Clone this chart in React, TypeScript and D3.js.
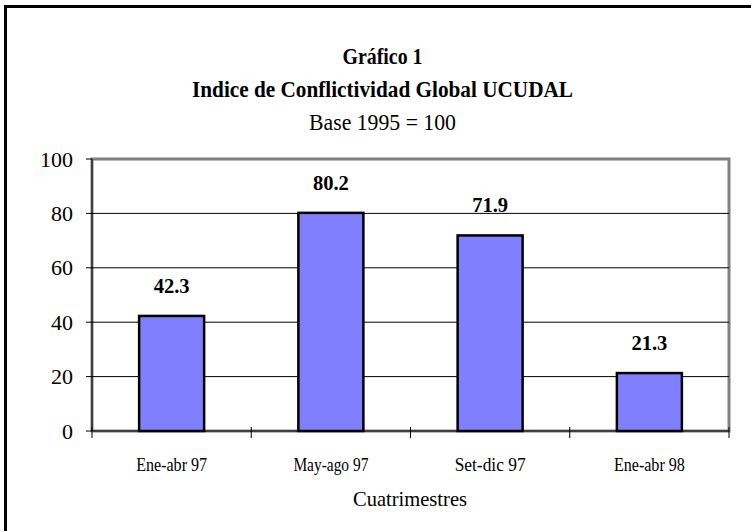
import React from "react";
import * as d3 from "d3";

const categories = ["Ene-abr 97", "May-ago 97", "Set-dic 97", "Ene-abr 98"];
const values = [42.3, 80.2, 71.9, 21.3];
const yTicks = [0, 20, 40, 60, 80, 100];
const titleLines = ["Gráfico 1", "Indice de Conflictividad Global UCUDAL", "Base 1995 = 100"];
const xAxisTitle = "Cuatrimestres";

const W = 751;
const H = 531;
const plot = { left: 92, right: 729, top: 159, bottom: 431 };
const FONT = "Liberation Serif, Times New Roman, serif";
const ts = { fontFamily: FONT };

export default function App() {
  const x = d3
    .scaleBand<string>()
    .domain(categories)
    .range([plot.left, plot.right])
    .paddingInner(0)
    .paddingOuter(0);
  const y = d3.scaleLinear().domain([0, 100]).range([plot.bottom, plot.top]);
  const barW = 65;
  const bounds = [...categories.map((c) => x(c)!), plot.right];
  const xLabelWidths = [71, 75, 71, 71];

  return (
    <svg
      width={W}
      height={H}
      style={{ position: "absolute", left: 0, top: 0, display: "block", background: "#fff", fontFamily: FONT }}
    >
      <rect x={0} y={0} width={W} height={H} fill="#fff" />
      {/* outer frame (top & left visible) */}
      <rect x={5.5} y={6.5} width={900} height={700} fill="none" stroke="#000" strokeWidth={3} />

      {/* titles */}
      <text style={ts} x={382.5} y={64} textAnchor="middle" fontWeight="bold" fontSize={23} textLength={80} lengthAdjust="spacingAndGlyphs">
        {titleLines[0]}
      </text>
      <text style={ts} x={382.5} y={97} textAnchor="middle" fontWeight="bold" fontSize={23} textLength={381} lengthAdjust="spacingAndGlyphs">
        {titleLines[1]}
      </text>
      <text style={ts} x={382.5} y={130} textAnchor="middle" fontSize={23} textLength={147} lengthAdjust="spacingAndGlyphs">
        {titleLines[2]}
      </text>

      {/* plot area border */}
      <rect
        x={plot.left}
        y={plot.top}
        width={plot.right - plot.left}
        height={plot.bottom - plot.top}
        fill="#fff"
        stroke="#808080"
        strokeWidth={3}
      />

      {/* gridlines */}
      {yTicks
        .filter((t) => t > 0 && t < 100)
        .map((t) => (
          <line key={"g" + t} x1={plot.left} x2={plot.right} y1={y(t)} y2={y(t)} stroke="#000" strokeWidth={1} />
        ))}

      {/* bars */}
      {categories.map((c, i) => {
        const cx = x(c)! + x.bandwidth() / 2;
        return (
          <g key={c}>
            <rect
              x={cx - barW / 2}
              y={y(values[i])}
              width={barW}
              height={plot.bottom - y(values[i])}
              fill="#8080FF"
              stroke="#000"
              strokeWidth={2.5}
            />
            <text
              style={ts}
              x={cx}
              y={y(values[i]) - 23}
              textAnchor="middle"
              fontWeight="bold"
              fontSize={22}
              textLength={36}
              lengthAdjust="spacingAndGlyphs"
            >
              {values[i].toFixed(1)}
            </text>
          </g>
        );
      })}

      {/* axes */}
      <line x1={plot.left} x2={plot.left} y1={plot.top} y2={plot.bottom} stroke="#000" strokeWidth={1} />
      <line x1={plot.left} x2={plot.right} y1={plot.bottom} y2={plot.bottom} stroke="#000" strokeWidth={1} />
      {yTicks.map((t) => (
        <g key={"y" + t}>
          <line x1={plot.left - 6} x2={plot.left} y1={y(t)} y2={y(t)} stroke="#000" strokeWidth={1} />
          <text style={ts} x={73} y={y(t) + 7.5} textAnchor="end" fontSize={22}>
            {t}
          </text>
        </g>
      ))}
      {bounds.map((b, i) => (
        <line key={"xt" + i} x1={b} x2={b} y1={plot.bottom - 4} y2={plot.bottom + 7} stroke="#000" strokeWidth={1} />
      ))}
      {categories.map((c, i) => (
        <text
          style={ts}
          key={"xl" + c}
          x={x(c)! + x.bandwidth() / 2}
          y={471}
          textAnchor="middle"
          fontSize={19}
          textLength={xLabelWidths[i]}
          lengthAdjust="spacingAndGlyphs"
        >
          {c}
        </text>
      ))}
      <text style={ts} x={410} y={506} textAnchor="middle" fontSize={22} textLength={114} lengthAdjust="spacingAndGlyphs">
        {xAxisTitle}
      </text>
    </svg>
  );
}
